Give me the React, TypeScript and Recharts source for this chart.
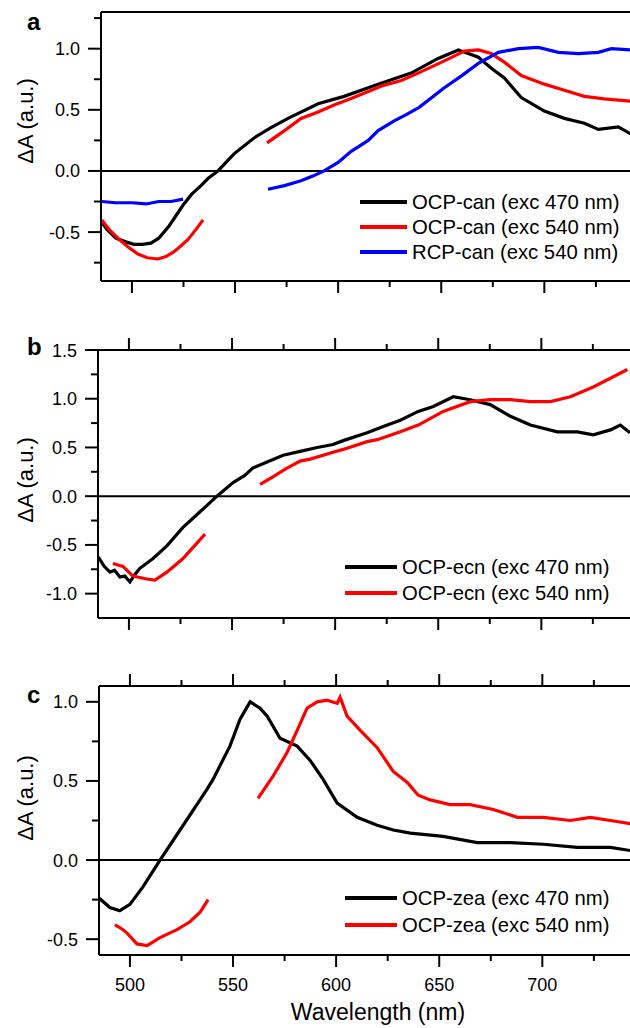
import { LineChart, Line, XAxis, YAxis, ReferenceLine, Legend } from 'recharts'

const FONT = '"Liberation Sans", Arial, Helvetica, sans-serif'

// wavelength axis (nm)
const xDomain = [485, 743]
const xMajor = [500, 550, 600, 650, 700]
const xMinor = [525, 575, 625, 675, 725]
const xTicks = [...xMajor, ...xMinor].sort((p, q) => p - q)

// ---- panel a: canthaxanthin ----
const aYMajor = [-0.5, 0, 0.5, 1.0]
const aYMinor = [-0.75, -0.25, 0.25, 0.75, 1.25]
const aOcp470 = [
  [485.4, -0.42], [488, -0.48], [492.2, -0.55], [497, -0.58], [501, -0.6], [505, -0.6], [509.2, -0.59],
  [513, -0.55], [518, -0.45], [522, -0.35], [525.2, -0.27], [529, -0.19], [533.5, -0.12], [537, -0.06],
  [541.7, 0], [549.5, 0.14], [559.2, 0.27], [567, 0.35], [575.7, 0.43], [590.3, 0.55], [602.9, 0.61],
  [619.4, 0.71], [635.4, 0.8], [648.5, 0.92], [658.3, 0.99], [663.1, 0.96], [668, 0.93], [674.3, 0.84],
  [680.6, 0.76], [688.8, 0.6], [700, 0.49], [709.7, 0.43], [719.4, 0.39], [726.2, 0.34], [735.9, 0.36],
  [742.2, 0.3],
]
const aOcp540Blue = [
  [485.4, -0.4], [489, -0.48], [493.2, -0.55], [498, -0.62], [502.9, -0.68], [507.5, -0.71], [512.6, -0.72],
  [516.5, -0.7], [520.4, -0.66], [524, -0.61], [527.2, -0.56], [531, -0.48], [534.5, -0.4],
]
const aOcp540Red = [
  [565.5, 0.23], [574, 0.33], [582, 0.43], [590, 0.48], [598, 0.54], [606, 0.59], [614.6, 0.65], [622, 0.7],
  [630.6, 0.74], [638.8, 0.8], [651.5, 0.9], [661.2, 0.98], [668, 0.99], [674.3, 0.96], [680.6, 0.89],
  [688.8, 0.78], [700, 0.71], [709.7, 0.66], [719.4, 0.61], [729.1, 0.59], [742.2, 0.57],
]
const aRcp540Blue = [
  [485.4, -0.25], [492, -0.26], [500, -0.26], [507, -0.27], [513, -0.25], [519, -0.25], [524.8, -0.23],
]
const aRcp540Red = [
  [566, -0.15], [574, -0.12], [582, -0.08], [588, -0.04], [593.2, 0], [600, 0.07], [606.3, 0.16],
  [614.6, 0.25], [619.4, 0.33], [627.2, 0.41], [633, 0.46], [639.3, 0.52], [651.5, 0.68], [660, 0.78],
  [668, 0.88], [677.7, 0.97], [687.4, 1.0], [697.1, 1.01], [706.8, 0.97], [716.5, 0.96], [726.2, 0.97],
  [732.5, 1.0], [742.2, 0.99],
]

// ---- panel b: echinenone ----
const bYMajor = [-1.0, -0.5, 0, 0.5, 1.0, 1.5]
const bYMinor = [-0.75, -0.25, 0.25, 0.75, 1.25]
const bOcp470 = [
  [485, -0.62], [488, -0.72], [490.8, -0.78], [493, -0.76], [495.6, -0.83], [498, -0.82], [500.5, -0.88],
  [503, -0.8], [505.3, -0.74], [511.7, -0.64], [518.4, -0.51], [526.2, -0.32], [534.5, -0.16], [542.7, 0],
  [550.5, 0.14], [556, 0.21], [560.2, 0.29], [567, 0.35], [574.8, 0.42], [583, 0.46], [591.3, 0.5],
  [599, 0.53], [603.9, 0.57], [615.5, 0.65], [624, 0.72], [631.6, 0.78], [640.3, 0.87], [647.6, 0.92],
  [657.3, 1.02], [665.5, 0.99], [675.2, 0.94], [685, 0.82], [694.7, 0.73], [707.8, 0.66], [717.5, 0.66],
  [725.2, 0.63], [733.5, 0.68], [738.3, 0.73], [743, 0.65],
]
const bOcp540Blue = [
  [492.2, -0.69], [497.1, -0.72], [501.9, -0.82], [508.7, -0.85], [512.6, -0.86], [518.4, -0.78],
  [526.2, -0.64], [536.9, -0.39],
]
const bOcp540Red = [
  [563.6, 0.12], [570, 0.2], [576, 0.28], [583, 0.36], [587.9, 0.38], [599, 0.45], [603.9, 0.48],
  [615.5, 0.56], [620.4, 0.58], [631.6, 0.66], [640.3, 0.73], [652.4, 0.87], [665.5, 0.97], [675.2, 0.99],
  [685, 0.99], [694.7, 0.97], [704.4, 0.97], [714.1, 1.02], [725.2, 1.12], [733.5, 1.21], [741.7, 1.3],
]

// ---- panel c: zeaxanthin ----
const cYMajor = [-0.5, 0, 0.5, 1.0]
const cYMinor = [-0.25, 0.25, 0.75]
const cOcp470 = [
  [485, -0.24], [490.3, -0.3], [495.1, -0.32], [500, -0.28], [506.3, -0.17], [514.6, 0], [524.3, 0.19],
  [534, 0.38], [537.5, 0.45], [540.3, 0.51], [548.5, 0.72], [553.4, 0.89], [558.3, 1.0], [563.1, 0.96],
  [566.5, 0.91], [572.8, 0.77], [581.1, 0.72], [587.4, 0.63], [593.7, 0.51], [600.5, 0.36], [610.2, 0.27],
  [619.9, 0.22], [627.7, 0.19], [636, 0.17], [651.9, 0.15], [668.4, 0.11], [684.5, 0.11], [700.5, 0.1],
  [717, 0.08], [733, 0.08], [742.7, 0.06],
]
const cOcp540Blue = [
  [492.7, -0.41], [495.5, -0.43], [498.5, -0.46], [503.4, -0.53], [508.3, -0.54], [514.6, -0.49],
  [522.8, -0.44], [529.1, -0.39], [534, -0.33], [537.9, -0.25],
]
const cOcp540Red = [
  [562.1, 0.39], [569.4, 0.53], [576.2, 0.68], [581.1, 0.82], [585.9, 0.96], [590.8, 1.0], [595.6, 1.01],
  [600.5, 0.99], [601.9, 1.03], [605.3, 0.91], [611.7, 0.82], [619.9, 0.71], [627.7, 0.56], [634.5, 0.49],
  [639.8, 0.41], [645.6, 0.38], [655.3, 0.35], [665, 0.35], [676.2, 0.32], [687.9, 0.27], [700.5, 0.27],
  [713.6, 0.25], [723.3, 0.27], [733, 0.25], [742.7, 0.23],
]

const toPts = (arr: number[][]) => arr.map(([w, v]) => ({ w, v }))

const PLOT_W = 532
const CHART_W = 650

type Series = { name: string; color: string; parts: number[][][] }

function YTick(props: any) {
  const { x, y, payload, majors } = props
  const major = majors.includes(payload.value)
  return (
    <g>
      <line x1={x} x2={x - (major ? 13 : 7)} y1={y} y2={y} stroke="#000" strokeWidth={2} />
      {major && (
        <text x={x - 21} y={y + 6.5} textAnchor="end" fontSize={18} fontFamily={FONT} fill="#000">
          {payload.value.toFixed(1)}
        </text>
      )}
    </g>
  )
}

function XTick(props: any) {
  const { x, y, payload, labels, up } = props
  const major = xMajor.includes(payload.value)
  const len = major ? 12 : 6
  return (
    <g>
      <line x1={x} x2={x} y1={y} y2={up ? y - len : y + len} stroke="#000" strokeWidth={2} />
      {major && labels && (
        <text x={x} y={y + 36} textAnchor="middle" fontSize={18} fontFamily={FONT} fill="#000">
          {payload.value}
        </text>
      )}
    </g>
  )
}

interface PanelProps {
  top: number
  plotLeft: number
  topAxisH: number
  plotH: number
  bottomAxisH: number
  yDomain: number[]
  yMajor: number[]
  yMinor: number[]
  topTicks: boolean
  xLabels: boolean
  series: Series[]
  letter: string
  letterY: number
  yLabelCy: number
  legend: { left: number; top: number; gap: number; lineLen: number }
}

function Panel(p: PanelProps) {
  const height = p.topAxisH + p.plotH + p.bottomAxisH
  const lg = p.legend
  return (
    <div style={{ position: 'absolute', left: 0, top: p.top }}>
      <LineChart
        width={CHART_W}
        height={height}
        margin={{ top: 0, right: CHART_W - p.plotLeft - PLOT_W, bottom: 0, left: 0 }}
      >
        <XAxis
          xAxisId="top"
          orientation="top"
          type="number"
          dataKey="w"
          domain={xDomain}
          allowDataOverflow
          ticks={xTicks}
          interval={0}
          height={p.topAxisH}
          tickSize={0}
          tickMargin={0}
          tickLine={false}
          axisLine={{ stroke: '#000', strokeWidth: 2 }}
          tick={p.topTicks ? <XTick up labels={false} /> : false}
        />
        <XAxis
          type="number"
          dataKey="w"
          domain={xDomain}
          allowDataOverflow
          ticks={xTicks}
          interval={0}
          height={p.bottomAxisH}
          tickSize={0}
          tickMargin={0}
          tickLine={false}
          axisLine={{ stroke: '#000', strokeWidth: 2 }}
          tick={<XTick labels={p.xLabels} />}
          label={
            p.xLabels
              ? () => (
                  <text x={378} y={height - 8} textAnchor="middle" fontSize={23} fontFamily={FONT} fill="#000">
                    Wavelength (nm)
                  </text>
                )
              : undefined
          }
        />
        <YAxis
          type="number"
          domain={p.yDomain}
          allowDataOverflow
          ticks={[...p.yMajor, ...p.yMinor].sort((q, r) => q - r)}
          interval={0}
          width={p.plotLeft}
          tickSize={0}
          tickMargin={0}
          tickLine={false}
          axisLine={{ stroke: '#000', strokeWidth: 2 }}
          tick={<YTick majors={p.yMajor} />}
          label={() => (
            <g>
              <text x={27} y={p.letterY} fontSize={24} fontWeight="bold" fontFamily={FONT} fill="#000">
                {p.letter}
              </text>
              <text
                x={33}
                y={p.yLabelCy}
                transform={`rotate(-90 33 ${p.yLabelCy})`}
                textAnchor="middle"
                fontSize={22}
                fontFamily={FONT}
                fill="#000"
              >
                ΔA (a.u.)
              </text>
            </g>
          )}
        />
        <ReferenceLine y={0} stroke="#000" strokeWidth={2} />
        {p.series.flatMap((s, si) =>
          s.parts.map((part, pi) => (
            <Line
              key={`${si}-${pi}`}
              data={toPts(part)}
              dataKey="v"
              type="linear"
              stroke={s.color}
              strokeWidth={3.2}
              dot={false}
              isAnimationActive={false}
              legendType="none"
            />
          ))
        )}
        <Legend
          layout="vertical"
          align="center"
          verticalAlign="middle"
          wrapperStyle={{ left: lg.left, top: lg.top, width: 290 }}
          content={() => (
            <svg width={290} height={p.series.length * lg.gap + 10} style={{ display: 'block' }}>
              {p.series.map((s, i) => (
                <g key={s.name}>
                  <line
                    x1={5}
                    x2={5 + lg.lineLen}
                    y1={15 + i * lg.gap}
                    y2={15 + i * lg.gap}
                    stroke={s.color}
                    strokeWidth={4}
                  />
                  <text x={10 + lg.lineLen} y={22 + i * lg.gap} fontSize={20.3} fontFamily={FONT} fill="#000">
                    {s.name}
                  </text>
                </g>
              ))}
            </svg>
          )}
        />
      </LineChart>
    </div>
  )
}

export default function App() {
  return (
    <div
      style={{
        position: 'absolute',
        left: 0,
        top: 0,
        width: 630,
        height: 1028,
        overflow: 'hidden',
        background: '#fff',
      }}
    >
      <Panel
        top={0}
        plotLeft={101}
        topAxisH={12}
        plotH={269}
        bottomAxisH={20}
        yDomain={[-0.9, 1.3]}
        yMajor={aYMajor}
        yMinor={aYMinor}
        topTicks={false}
        xLabels={false}
        letter="a"
        letterY={30}
        yLabelCy={121}
        legend={{ left: 355, top: 187, gap: 25, lineLen: 47 }}
        series={[
          { name: 'OCP-can (exc 470 nm)', color: '#000000', parts: [aOcp470] },
          { name: 'OCP-can (exc 540 nm)', color: '#ff0000', parts: [aOcp540Blue, aOcp540Red] },
          { name: 'RCP-can (exc 540 nm)', color: '#0000ff', parts: [aRcp540Blue, aRcp540Red] },
        ]}
      />
      <Panel
        top={330}
        plotLeft={98}
        topAxisH={20}
        plotH={268}
        bottomAxisH={20}
        yDomain={[-1.25, 1.5]}
        yMajor={bYMajor}
        yMinor={bYMinor}
        topTicks
        xLabels={false}
        letter="b"
        letterY={25}
        yLabelCy={150}
        legend={{ left: 340, top: 222, gap: 26, lineLen: 52 }}
        series={[
          { name: 'OCP-ecn (exc 470 nm)', color: '#000000', parts: [bOcp470] },
          { name: 'OCP-ecn (exc 540 nm)', color: '#ff0000', parts: [bOcp540Blue, bOcp540Red] },
        ]}
      />
      <Panel
        top={666}
        plotLeft={99}
        topAxisH={20}
        plotH={269}
        bottomAxisH={73}
        yDomain={[-0.6, 1.1]}
        yMajor={cYMajor}
        yMinor={cYMinor}
        topTicks
        xLabels
        letter="c"
        letterY={37}
        yLabelCy={132}
        legend={{ left: 340, top: 217, gap: 27, lineLen: 52 }}
        series={[
          { name: 'OCP-zea (exc 470 nm)', color: '#000000', parts: [cOcp470] },
          { name: 'OCP-zea (exc 540 nm)', color: '#ff0000', parts: [cOcp540Blue, cOcp540Red] },
        ]}
      />
    </div>
  )
}
